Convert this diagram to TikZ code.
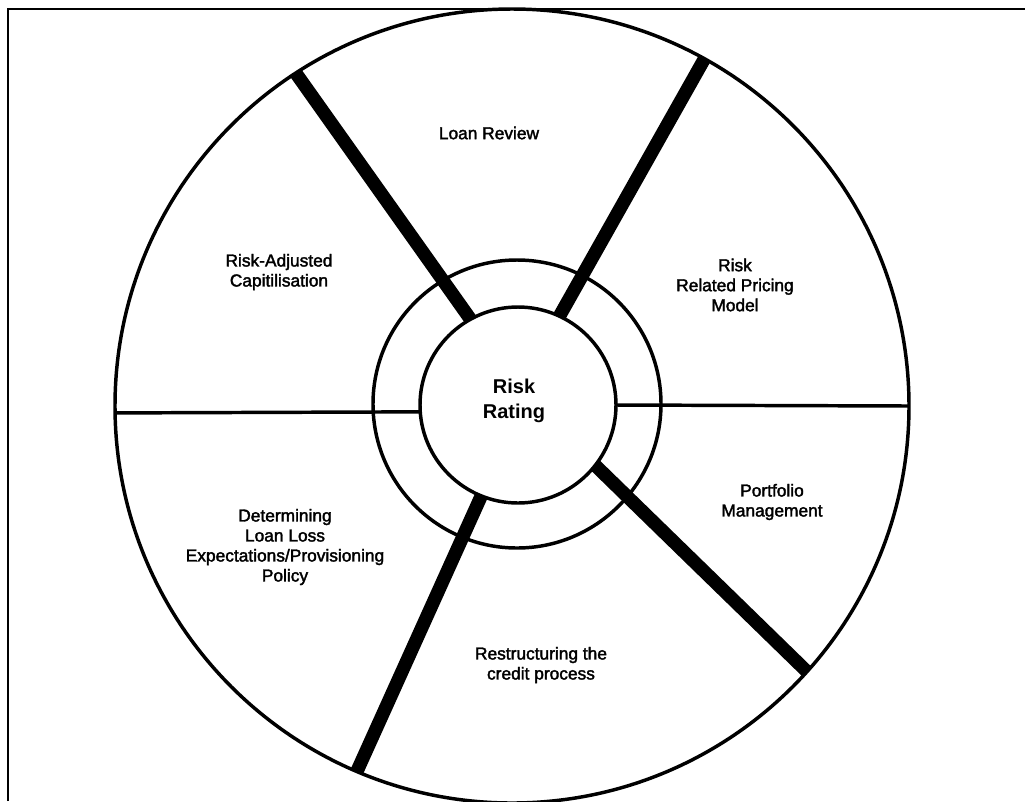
\documentclass[tikz,border=0pt]{standalone}
\usepackage{fontspec}
\setmainfont{Liberation Sans}
\newfontfamily\lblfont[FakeBold=2]{Liberation Sans}
\pgfdeclarelayer{background}
\pgfsetlayers{background,main}
\begin{document}
\begin{tikzpicture}[x=0.75pt,y=-0.75pt,
  ring/.style={circle,draw,line width=2.6pt,inner sep=0pt,outer sep=0pt},
  spoke/.style={line width=10pt},
  divider/.style={line width=2.6pt},
  frameline/.style={line width=1.4pt},
  lbl/.style={align=center,font=\lblfont\fontsize{13}{15}\selectfont,inner sep=0pt},
  centrelbl/.style={align=center,font=\fontsize{15}{18.75}\selectfont\bfseries,inner sep=0pt}]
\useasboundingbox (0,0) rectangle (1025,801);
\draw[frameline] (8,801) -- (8,9) -- (1025,9);
% rings
\node[ring, minimum size=595.5pt] (outer) at (512,406) {};
\node[ring, minimum size=216pt] (middle) at (517,404) {};
\node[ring, minimum size=147pt] (inner) at (518,405) {};
\node[centrelbl] (rr) at (514,401) {Risk\\Rating};
% spokes and dividers
\begin{pgfonlayer}{background}
\fill[white] (0,0) rectangle (1025,801);
\draw[spoke] (inner.119) -- (outer.123.3);
\draw[spoke] (inner.65.7) -- (outer.61.5);
\draw[spoke] (inner.-38.4) -- (outer.-42.5);
\draw[spoke] (inner.248.2) -- (outer.247.7);
\draw[divider] (outer.181) -- (inner.184.7);
\draw[divider] (inner.-0.6) -- (outer.0);
\end{pgfonlayer}
% labels
\node[lbl] (lr) at (489,133) {Loan Review};
\node[lbl] (rac) at (279,272) {Risk-Adjusted\\Capitilisation};
\node[lbl] (rrpm) at (735,285) {Risk\\Related Pricing\\Model};
\node[lbl] (pm) at (772,502) {Portfolio\\Management};
\node[lbl] (dll) at (285,547) {Determining\\Loan Loss\\Expectations/Provisioning\\Policy};
\node[lbl] (rcp) at (541,665) {Restructuring the\\credit process};
\end{tikzpicture}
\end{document}
